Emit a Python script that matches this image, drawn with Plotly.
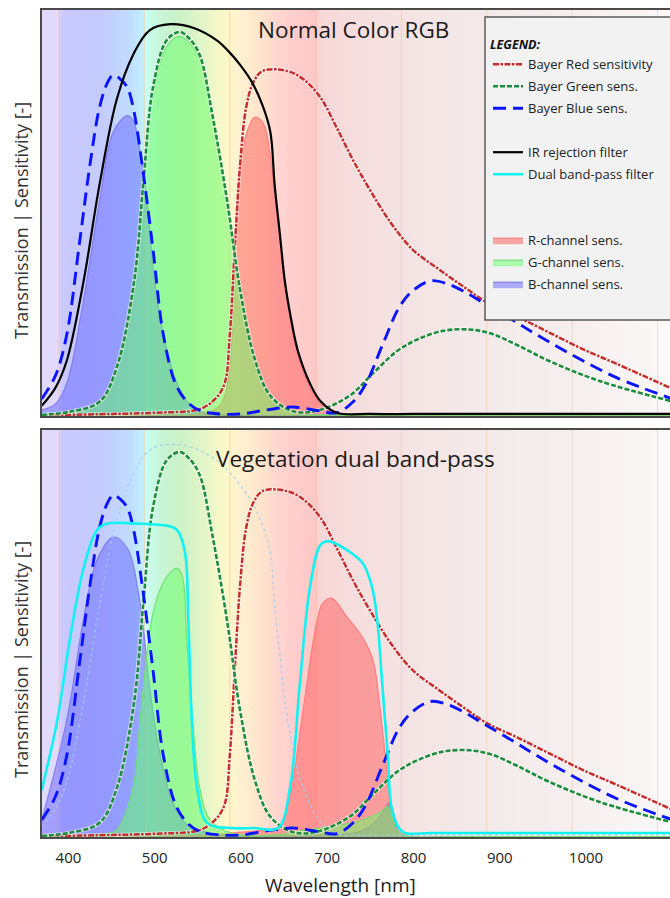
import plotly.graph_objects as go

# ---------------- data (wavelength nm, relative value 0-100) ----------------
BAYER_RED_NM = [369, 450, 500, 552, 570, 581, 587, 593, 599, 606, 614, 625, 653, 672, 692, 711, 730, 750, 774, 799, 827, 857, 885, 920, 958, 996, 1036, 1098]
BAYER_RED = [0.2, 0.5, 0.8, 1.7, 4.2, 8, 20, 42, 62, 76, 82, 85, 85, 83, 78.5, 71, 63, 55.5, 47.5, 41, 36.5, 32, 28, 24.5, 20.5, 16.5, 12.8, 6.9]

BAYER_GREEN_NM = [369, 400, 436, 456, 476, 487, 498, 514, 529, 540, 552, 567, 584, 599, 616, 634, 660, 688, 726, 753, 781, 806, 835, 865, 890, 920, 958, 1016, 1098]
BAYER_GREEN = [0.3, 1, 3.5, 12, 33, 58, 81, 92.6, 94.6, 93, 89, 74, 53, 31, 14, 5, 1.2, 1.3, 5, 10.5, 16, 19, 21, 21.3, 20.3, 17.5, 13.5, 8.6, 3.7]

BAYER_BLUE_NM = [369, 385, 398, 413, 425, 436, 445, 452, 460, 468, 475, 486, 498, 510, 525, 540, 553, 575, 600, 630, 660, 690, 711, 730, 745, 765, 784, 800, 820, 840, 860, 880, 916, 943, 980, 1036, 1098]
BAYER_BLUE = [4.2, 10, 20, 43, 62, 76, 82, 84, 83, 81, 76, 61, 41, 20, 7.5, 3, 1.3, 0.5, 0.5, 1.5, 2.2, 1.3, 0.8, 3.5, 8, 18, 27, 31, 33.3, 32.5, 30.5, 28, 23.5, 20, 15.5, 9.4, 4.4]

IR_NM = [369, 385, 398, 417, 436, 456, 475, 494, 518, 546, 572, 587, 599, 612, 625, 634, 639, 645, 651, 658, 666, 680, 692, 711, 750, 800, 900, 1000, 1098]
IR_FILTER = [2.5, 7, 13.6, 32.6, 57, 78, 89, 95, 96.5, 95.5, 92.5, 89.5, 86.5, 82.5, 76.5, 70, 57, 45, 33, 24, 16, 8, 3.7, 0.8, 0.5, 0.5, 0.5, 0.5, 0.5]

DUAL_NM = [369, 387, 402, 417, 433, 445, 480, 516, 526, 535, 539, 543, 549, 561, 590, 615, 643, 657, 668, 680, 692, 701, 723, 741, 752, 758, 764, 770, 776, 788, 820, 900, 1000, 1098]
DUAL_FILTER = [11.5, 28.7, 49, 65.6, 75.4, 77, 77, 76.4, 75.4, 70, 53, 28.7, 12.3, 3.4, 2.2, 2.2, 2.2, 12.3, 37, 61.4, 71.7, 72.7, 70.5, 67.3, 61.4, 53.3, 37, 20.6, 5.9, 1.2, 1.0, 1.0, 1.0, 1.0]

# channel sensitivities - Normal Color RGB
R_TOP_NM = [369, 500, 550, 575, 587, 591, 599, 607, 616, 626, 634, 639, 645, 651, 658, 666, 680, 692, 711, 750, 900, 1098]
R_TOP = [0.1, 0.2, 0.5, 2.5, 12, 36, 61, 70, 73.6, 72, 64, 55, 44, 32, 23, 15, 7, 3, 0.5, 0.2, 0.1, 0.1]
G_TOP_NM = [369, 436, 456, 476, 487, 498, 514, 529, 540, 552, 567, 584, 599, 616, 634, 660, 700, 800, 950, 1098]
G_TOP = [0.3, 3, 11, 32, 57, 79, 91, 93.5, 92, 88, 73, 52, 30, 13, 4.5, 0.8, 0.3, 0.2, 0.2, 0.2]
B_TOP_NM = [369, 385, 398, 417, 436, 452, 468, 475, 483, 491, 498, 510, 526, 540, 552, 580, 700, 900, 1098]
B_TOP = [1.5, 3, 8, 28, 53, 70, 74, 72.8, 65, 53, 36.5, 20, 8, 3, 1.2, 0.3, 0.1, 0.1, 0.1]

# channel sensitivities - Vegetation dual band-pass
R_BOT_NM = [369, 500, 560, 600, 640, 645, 657, 665, 676, 688, 695, 705, 723, 741, 753, 761, 767, 773, 779, 784, 796, 850, 950, 1098]
R_BOT = [0.1, 0.2, 0.5, 1.2, 2, 2.5, 10, 20.6, 37, 53, 57.5, 58.7, 54, 49, 43.5, 32, 20.6, 8.4, 2.5, 1, 0.1, 0.1, 0.1, 0.1]
G_BOT_NM = [369, 440, 456, 475, 483, 491, 497, 506, 518, 526, 532, 537, 544, 552, 564, 588, 643, 668, 703, 738, 761, 770, 775, 781, 790, 850, 950, 1098]
G_BOT = [0.2, 0.8, 1.7, 12.3, 28.7, 45, 54, 60.7, 65, 66, 64, 49, 28.7, 12.3, 4.2, 1, 0.5, 1.5, 2.5, 4, 6, 7.5, 5, 1.5, 0.3, 0.1, 0.1, 0.1]
B_BOT_NM = [369, 398, 417, 433, 452, 468, 483, 494, 506, 521, 535, 552, 580, 640, 705, 740, 757, 767, 772, 777, 782, 792, 850, 950, 1098]
B_BOT = [4.2, 28.7, 53, 68, 73.7, 71, 57.5, 37, 20.6, 8.4, 3.5, 1.7, 0.4, 0.3, 0.5, 1.5, 4, 7, 8.4, 6, 1.5, 0.2, 0.1, 0.1, 0.1]

# background spectrum
BG_NM = [360, 387, 391, 400, 440, 470, 486, 489, 495, 510, 530, 555, 575, 588, 600, 625, 645, 665, 687, 690, 720, 787, 886, 985, 1060, 1110]
BG_COLORS = ['#e2d9ff', '#e2d9ff', '#cccaff', '#c8c8ff', '#c4ccff', '#c0dcff', '#c2f0ff', '#c8fff8',
             '#c8fbe8', '#c8f4d4', '#ccf2c6', '#e2f6c8', '#f6f8c8', '#fff6cc', '#fff0d0', '#ffe2cc',
             '#ffd4d0', '#ffcccc', '#fcc8c8', '#f8d6d6', '#f7dcdc', '#f5e3e3', '#f4eaea', '#f6efef',
             '#faf5f5', '#fcfafa']
GRID_NM = [389, 488, 587, 687, 786, 885, 984, 1083]

TICKS = [400, 500, 600, 700, 800, 900, 1000]
X_RANGE = [369.3, 1097.4]

TITLE_TOP = "Normal Color RGB"
TITLE_BOT = "Vegetation dual band-pass"
Y_TITLE = "Transmission | Sensitivity [-]"
X_TITLE = "Wavelength [nm]"

FONT = "Open Sans"
RED_C = '#c62e2e'
GREEN_C = '#1d8c3c'
BLUE_C = '#0a14ff'
CYAN_C = '#12f2f2'

fig = go.Figure()

W, H = 670, 898
ML, MR, MT, MB = 42, 0, 10, 61
PH = H - MT - MB  # 827


def py(px):
    return (H - MB - px) / PH


def pxx(px):
    return (px - ML) / (W - ML - MR)


def add(tr, row):
    if row == 1:
        tr.update(xaxis='x', yaxis='y')
    else:
        tr.update(xaxis='x2', yaxis='y2')
    fig.add_trace(tr)


n = len(BG_NM)
cscale = [[i / (n - 1), c] for i, c in enumerate(BG_COLORS)]
idx = list(range(n))

gx, gy = [], []
for g in GRID_NM:
    gx += [g, g, None]
    gy += [0, 100, None]


def spl(nm, v, **kw):
    return go.Scatter(x=nm, y=v, mode='lines', hoverinfo='skip', **kw)


for row in (1, 2):
    add(go.Heatmap(x=BG_NM, y=[0, 100], z=[idx, idx], colorscale=cscale, zsmooth='best',
                   showscale=False, hoverinfo='skip'), row)
    add(go.Scatter(x=gx, y=gy, mode='lines', line=dict(color='rgba(250,195,140,0.55)', width=1),
                   showlegend=False, hoverinfo='skip'), row)

    if row == 1:
        bnm, bv, gnm, gv, rnm, rv = B_TOP_NM, B_TOP, G_TOP_NM, G_TOP, R_TOP_NM, R_TOP
    else:
        bnm, bv, gnm, gv, rnm, rv = B_BOT_NM, B_BOT, G_BOT_NM, G_BOT, R_BOT_NM, R_BOT
    sl = row == 1
    add(spl(bnm, bv, fill='tozeroy', fillcolor='rgba(100,100,255,0.5)',
            line=dict(color='rgba(125,120,235,0.9)', width=1.2, shape='spline'),
            name='B-channel sens.', showlegend=sl, legendgroup='b', legendrank=11), row)
    add(spl(rnm, rv, fill='tozeroy', fillcolor='rgba(255,90,90,0.5)',
            line=dict(color='rgba(255,120,120,0.9)', width=1.2, shape='spline'),
            name='R-channel sens.', showlegend=sl, legendgroup='r', legendrank=9), row)
    add(spl(gnm, gv, fill='tozeroy', fillcolor='rgba(100,255,100,0.5)',
            line=dict(color='rgba(110,225,110,0.9)', width=1.2, shape='spline'),
            name='G-channel sens.', showlegend=sl, legendgroup='g', legendrank=10), row)

    if row == 2:
        add(spl(IR_NM, IR_FILTER, line=dict(color='rgba(160,205,238,0.8)', width=1.4, dash='dot', shape='spline'),
                showlegend=False), row)

    add(spl(BAYER_RED_NM, BAYER_RED, line=dict(color='rgba(255,255,255,0.55)', width=4, shape='spline'),
            showlegend=False), row)
    add(spl(BAYER_RED_NM, BAYER_RED, line=dict(color=RED_C, width=2.5, dash='6px,1.5px,2.5px,1.5px', shape='spline'),
            name='Bayer Red sensitivity', showlegend=sl, legendgroup='br', legendrank=1), row)
    add(spl(BAYER_GREEN_NM, BAYER_GREEN, line=dict(color='rgba(255,255,255,0.55)', width=4.2, shape='spline'),
            showlegend=False), row)
    add(spl(BAYER_GREEN_NM, BAYER_GREEN, line=dict(color=GREEN_C, width=2.6, dash='5px,2px', shape='spline'),
            name='Bayer Green sens.', showlegend=sl, legendgroup='bg', legendrank=2), row)
    add(spl(BAYER_BLUE_NM, BAYER_BLUE, line=dict(color=BLUE_C, width=2.9, dash='13px,7px', shape='spline'),
            name='Bayer Blue sens.', showlegend=sl, legendgroup='bb', legendrank=3), row)

    if row == 1:
        add(spl(IR_NM, IR_FILTER, line=dict(color='#000000', width=2.2, shape='spline'),
                name='IR rejection filter', showlegend=True, legendgroup='ir', legendrank=5), row)
    else:
        add(spl(DUAL_NM, DUAL_FILTER, line=dict(color=CYAN_C, width=2.6, shape='spline'),
                name='Dual band-pass filter', showlegend=True, legendgroup='dual', legendrank=6), row)

# blank legend spacers
for k, rank in (('s1', 4), ('s2', 7), ('s3', 8)):
    add(go.Scatter(x=[370], y=[0], mode='lines', line=dict(color='rgba(0,0,0,0)'), name=' ',
                   showlegend=True, legendgroup=k, legendrank=rank, hoverinfo='skip'), 1)

axis_common = dict(range=X_RANGE, showgrid=False, zeroline=False, showline=True, mirror=True,
                   linecolor='#4a4a4a', linewidth=2, ticks='')
yaxis_common = dict(range=[0, 100], showgrid=False, zeroline=False, showline=True, mirror=False,
                    linecolor='#4a4a4a', linewidth=2, ticks='', showticklabels=False, fixedrange=True)

fig.update_layout(
    width=W, height=H,
    margin=dict(l=ML, r=MR, t=MT, b=MB),
    paper_bgcolor='white', plot_bgcolor='white',
    font=dict(family=FONT, color='#222222'),
    xaxis=dict(axis_common, anchor='y', showticklabels=False, matches='x2'),
    xaxis2=dict(axis_common, anchor='y2', showticklabels=True, tickvals=TICKS, ticklabelstandoff=6,
                tickfont=dict(size=15, color='#222222', family=FONT)),
    yaxis=dict(yaxis_common, domain=[py(416), 1.0]),
    yaxis2=dict(yaxis_common, domain=[0.0, py(430)]),
    legend=dict(x=pxx(488), y=py(33), xanchor='left', yanchor='top',
                bgcolor='rgba(0,0,0,0)', borderwidth=0,
                traceorder='grouped', tracegroupgap=2.1,
                font=dict(size=13, family=FONT, color='#222222'),
                title=dict(text='<b><i>LEGEND:</i></b>', font=dict(size=12.5, family=FONT, color='#111111'))),
    shapes=[dict(type='rect', xref='paper', yref='paper', x0=pxx(485), x1=1.02, y0=py(320), y1=py(17),
                 fillcolor='#f2f2f2', line=dict(color='#5a5a5a', width=1.5), layer='above')],
    annotations=[
        dict(text=TITLE_TOP, xref='paper', yref='paper', x=pxx(353), y=py(30), showarrow=False,
             font=dict(size=22.5, family=FONT, color='#1a1a1a'), xanchor='center', yanchor='middle'),
        dict(text=TITLE_BOT, xref='paper', yref='paper', x=pxx(355), y=py(458), showarrow=False,
             font=dict(size=22.5, family=FONT, color='#1a1a1a'), xanchor='center', yanchor='middle'),
        dict(text=Y_TITLE, xref='paper', yref='paper', x=pxx(21), y=py(221), showarrow=False, textangle=-90,
             font=dict(size=18, family=FONT, color='#333333'), xanchor='center', yanchor='middle'),
        dict(text=Y_TITLE, xref='paper', yref='paper', x=pxx(21), y=py(660), showarrow=False, textangle=-90,
             font=dict(size=18, family=FONT, color='#333333'), xanchor='center', yanchor='middle'),
        dict(text=X_TITLE, xref='paper', yref='paper', x=pxx(340), y=py(885), showarrow=False,
             font=dict(size=19, family=FONT, color='#222222'), xanchor='center', yanchor='middle'),
    ],
)

fig.write_html("out.html")
